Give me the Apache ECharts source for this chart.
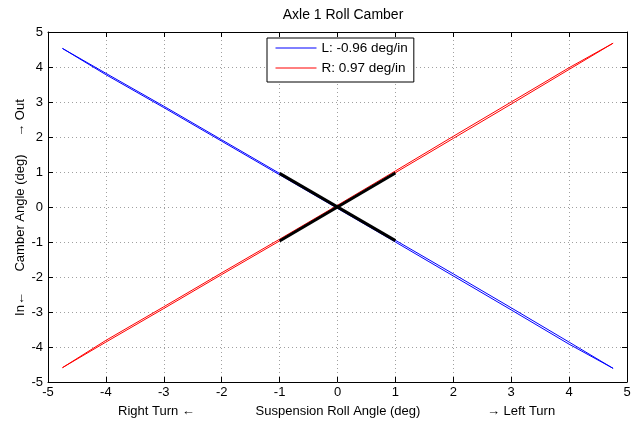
<!DOCTYPE html>
<html>
<head>
<meta charset="utf-8">
<script src="https://cdn.jsdelivr.net/npm/echarts@6/dist/echarts.min.js"></script>
<style>html,body{margin:0;padding:0;background:#fff}#c{width:643px;height:426px}</style>
</head>
<body>
<div id="c"></div>
<script>
// Data
var titleText = 'Axle 1 Roll Camber';
var legendNames = ['L: -0.96 deg/in', 'R: 0.97 deg/in'];
var xTicks = [-5, -4, -3, -2, -1, 0, 1, 2, 3, 4, 5];
var yTicks = [-5, -4, -3, -2, -1, 0, 1, 2, 3, 4, 5];

// Left (blue) loop: outbound then return branch
var leftX = [-4.75, -4, -3, -2, -1, 0, 1, 2, 3, 4, 4.76, 4, 3, 2, 1, 0, -1, -2, -3, -4, -4.75];
var leftY = [4.53, 3.82, 2.88, 1.92, 0.96, 0.01, -0.95, -1.91, -2.88, -3.86, -4.61, -3.92, -2.94, -1.97, -1.00, -0.04, 0.92, 1.88, 2.84, 3.78, 4.53];
// Right (red) loop
var rightX = [-4.75, -4, -3, -2, -1, 0, 1, 2, 3, 4, 4.76, 4, 3, 2, 1, 0, -1, -2, -3, -4, -4.75];
var rightY = [-4.59, -3.86, -2.90, -1.93, -0.97, 0.00, 0.98, 1.96, 2.94, 3.93, 4.68, 3.98, 3.00, 2.02, 1.03, 0.05, -0.92, -1.88, -2.85, -3.81, -4.59];
// Fit lines (black)
var fitLX = [-1, 1];
var fitLY = [0.96, -0.96];
var fitRX = [-1, 1];
var fitRY = [-0.97, 0.97];

function pairs(xs, ys) { return xs.map(function (x, i) { return [x, ys[i]]; }); }

var FONT = 'Liberation Sans, Arial, sans-serif';
var chart = echarts.init(document.getElementById('c'), null, {renderer: 'canvas'});
var axisCommon = {
  type: 'value', min: -5, max: 5, interval: 1,
  axisLine: {show: true, onZero: false, lineStyle: {color: '#000', width: 1}},
  axisTick: {show: true, inside: true, length: 5, lineStyle: {color: '#000'}}
};
chart.setOption({
  animation: false,
  backgroundColor: '#fff',
  textStyle: {fontFamily: FONT},
  title: {
    text: titleText, left: 338, top: 3, textAlign: 'center',
    textStyle: {fontFamily: FONT, fontSize: 14, fontWeight: 'normal', color: '#000'}
  },
  grid: {left: 48, right: 16, top: 32, bottom: 44, containLabel: false},
  legend: {
    data: legendNames, orient: 'vertical', left: 267, top: 38,
    backgroundColor: '#fff', borderColor: '#000', borderWidth: 1, borderRadius: 0,
    padding: [3, 6, 7, 8], itemGap: 6, itemWidth: 41, itemHeight: 14,
    itemStyle: {opacity: 0},
    lineStyle: {width: 1},
    textStyle: {fontFamily: FONT, fontSize: 13.5, color: '#000'}
  },
  xAxis: [
    Object.assign({}, axisCommon, {
      position: 'bottom',
      axisLabel: {color: '#000', fontSize: 13, fontFamily: FONT, margin: 4},
      splitLine: {show: true, lineStyle: {color: '#a0a0a0', type: [1, 3], width: 1}}
    }),
    Object.assign({}, axisCommon, {
      position: 'top', axisLabel: {show: false}, splitLine: {show: false}
    })
  ],
  yAxis: [
    Object.assign({}, axisCommon, {
      position: 'left',
      axisLabel: {color: '#000', fontSize: 13, fontFamily: FONT, margin: 5},
      splitLine: {show: true, lineStyle: {color: '#a0a0a0', type: [1, 3], width: 1}}
    }),
    Object.assign({}, axisCommon, {
      position: 'right', axisLabel: {show: false}, splitLine: {show: false}
    })
  ],
  graphic: [
    {type: 'text', x: 118, y: 411, style: {text: 'Right Turn \u2190', font: '13px ' + FONT, fill: '#000', align: 'left', verticalAlign: 'middle'}},
    {type: 'text', x: 338, y: 411, style: {text: 'Suspension Roll Angle (deg)', font: '13px ' + FONT, fill: '#000', align: 'center', verticalAlign: 'middle'}},
    {type: 'text', x: 487, y: 411, style: {text: '\u2192 Left Turn', font: '13px ' + FONT, fill: '#000', align: 'left', verticalAlign: 'middle'}},
    {type: 'text', x: 20, y: 213, rotation: Math.PI / 2, style: {text: 'Camber Angle (deg)', font: '13px ' + FONT, fill: '#000', align: 'center', verticalAlign: 'middle'}},
    {type: 'text', x: 20, y: 304, rotation: Math.PI / 2, style: {text: 'In\u2190', font: '13px ' + FONT, fill: '#000', align: 'center', verticalAlign: 'middle'}},
    {type: 'text', x: 20, y: 118, rotation: Math.PI / 2, style: {text: '\u2192 Out', font: '13px ' + FONT, fill: '#000', align: 'center', verticalAlign: 'middle'}}
  ],
  series: [
    {name: legendNames[0], type: 'line', data: pairs(leftX, leftY), symbol: 'none', color: '#0000ff',
      lineStyle: {color: '#0000ff', width: 1}, z: 3},
    {name: legendNames[1], type: 'line', data: pairs(rightX, rightY), symbol: 'none', color: '#ff0000',
      lineStyle: {color: '#ff0000', width: 1}, z: 3},
    {name: 'fitL', type: 'line', data: pairs(fitLX, fitLY), symbol: 'none',
      lineStyle: {color: '#000', width: 3}, z: 4},
    {name: 'fitR', type: 'line', data: pairs(fitRX, fitRY), symbol: 'none',
      lineStyle: {color: '#000', width: 3}, z: 4}
  ]
});
</script>
</body>
</html>
